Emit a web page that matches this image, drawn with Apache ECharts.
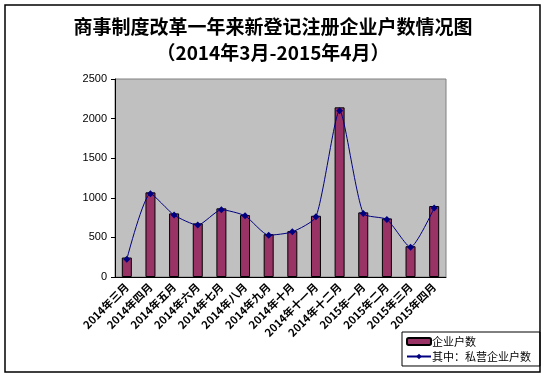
<!DOCTYPE html>
<html>
<head>
<meta charset="utf-8">
<style>
  html, body { margin: 0; padding: 0; background: #fff; }
  #main { width: 546px; height: 377px; }
</style>
<script src="https://cdn.jsdelivr.net/npm/echarts@6/dist/echarts.min.js"></script>
</head>
<body>
<div id="main"></div>
<script>
// 月份
var months = ['2014年三月', '2014年四月', '2014年五月', '2014年六月', '2014年七月', '2014年八月', '2014年九月',
  '2014年十月', '2014年十一月', '2014年十二月', '2015年一月', '2015年二月', '2015年三月', '2015年四月'];
// 企业户数
var totalCount = [246, 1069, 803, 677, 867, 782, 541, 579, 773, 2142, 816, 740, 389, 896];
// 其中：私营企业户数
var privateCount = [224, 1052, 782, 655, 849, 773, 528, 570, 760, 2100, 803, 727, 376, 871];
var yTicks = [0, 500, 1000, 1500, 2000, 2500];

var cjk = '"Noto Sans CJK SC", "Noto Sans", sans-serif';

var chart = echarts.init(document.getElementById('main'));
chart.setOption({
  backgroundColor: '#fff',
  animation: false,
  title: {
    text: '商事制度改革一年来新登记注册企业户数情况图\n（2014年3月-2015年4月）',
    left: 'center',
    top: 9,
    textStyle: { fontFamily: cjk, fontSize: 19, fontWeight: 'bold', color: '#000', lineHeight: 26 }
  },
  graphic: [{
    type: 'rect',
    shape: { x: 5, y: 5, width: 535, height: 367 },
    style: { fill: null, stroke: '#000', lineWidth: 1.5 },
    z: 100
  }],
  legend: {
    orient: 'vertical',
    left: 402,
    top: 332,
    padding: [4, 9, 4, 4],
    itemGap: 4,
    itemWidth: 24,
    itemHeight: 7,
    borderColor: '#000',
    borderWidth: 1,
    backgroundColor: '#fff',
    textStyle: { fontFamily: cjk, fontSize: 11, color: '#000', padding: [0, 0, 0, -4] },
    data: ['企业户数', '其中：私营企业户数']
  },
  grid: {
    left: 115, top: 79, width: 331, height: 198,
    show: true, backgroundColor: '#C0C0C0', borderColor: '#808080', borderWidth: 1
  },
  xAxis: {
    type: 'category',
    data: months,
    axisLine: { lineStyle: { color: '#000', width: 1 } },
    axisTick: { inside: true, length: 4, lineStyle: { color: '#000' } },
    axisLabel: { rotate: 45, fontFamily: cjk, fontSize: 11, fontWeight: 'bold', color: '#000', margin: 8 }
  },
  yAxis: {
    type: 'value',
    min: yTicks[0],
    max: yTicks[yTicks.length - 1],
    interval: 500,
    splitLine: { show: false },
    axisLine: { show: true, lineStyle: { color: '#000', width: 1 } },
    axisTick: { show: true, length: 4, lineStyle: { color: '#000' } },
    axisLabel: {
      fontFamily: 'Arial, "Liberation Sans", sans-serif', fontSize: 11, color: '#000', margin: 8,
      formatter: function (v) { return String(v); }
    }
  },
  series: [
    {
      name: '企业户数',
      type: 'bar',
      data: totalCount,
      barWidth: 10,
      itemStyle: { color: '#993366', borderColor: '#000', borderWidth: 1 }
    },
    {
      name: '其中：私营企业户数',
      type: 'line',
      data: privateCount,
      smooth: 0.2,
      symbol: 'diamond',
      symbolSize: 7,
      itemStyle: { color: '#000080' },
      lineStyle: { color: '#000080', width: 1 }
    }
  ]
});
</script>
</body>
</html>
